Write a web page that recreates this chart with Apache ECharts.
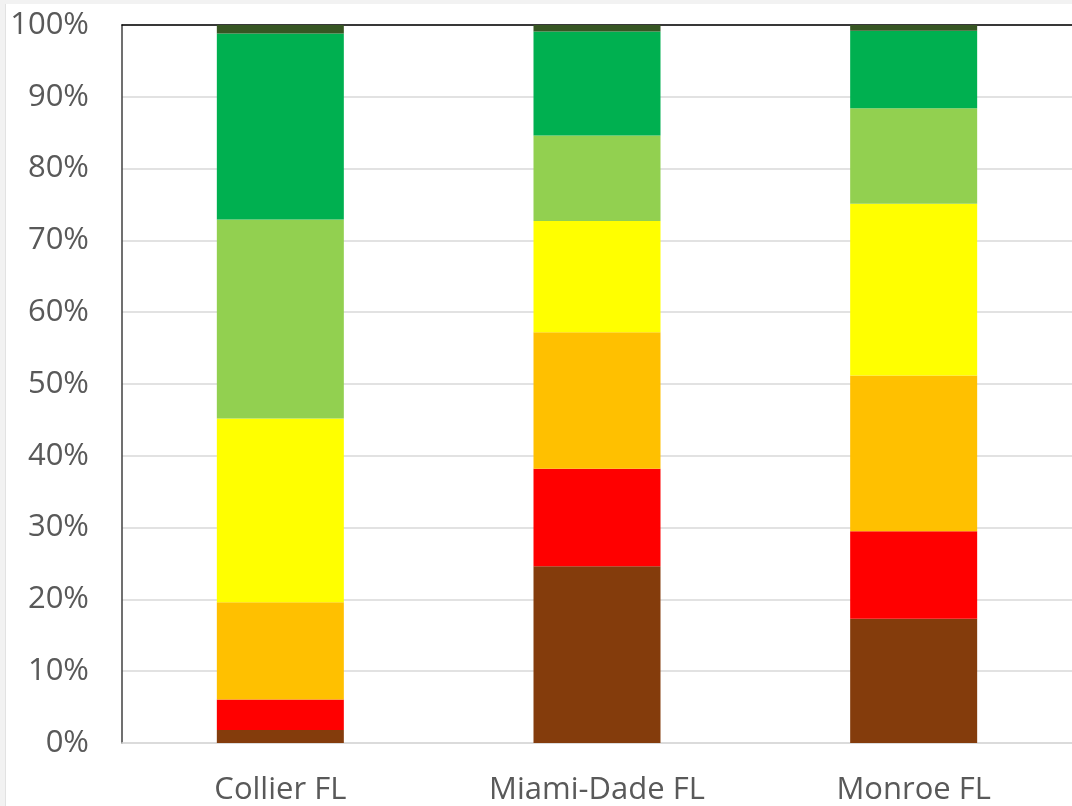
<!DOCTYPE html>
<html>
<head>
<meta charset="utf-8">
<script src="https://cdn.jsdelivr.net/npm/echarts@6/dist/echarts.min.js"></script>
<style>
  html, body { margin: 0; padding: 0; background: #f2f2f2; width: 1072px; height: 806px; overflow: hidden; }
  #leftline { position: absolute; left: 5px; top: 4px; width: 1px; height: 802px; background: #e2e2e2; }
  #chart { position: absolute; left: 6px; top: 4px; width: 1066px; height: 802px; background: #ffffff; }
</style>
</head>
<body>
<div id="leftline"></div>
<div id="chart"></div>
<script>
// Categories (counties)
const categories = ['Collier FL', 'Miami-Dade FL', 'Monroe FL'];
// Y axis ticks (percent)
const yTicks = [0, 10, 20, 30, 40, 50, 60, 70, 80, 90, 100];
// Stacked segments, bottom to top (percent of total)
const seg1 = [1.8, 24.6, 17.3];   // brown
const seg2 = [4.25, 13.6, 12.2];  // red
const seg3 = [13.55, 19.0, 21.7]; // orange
const seg4 = [25.6, 15.5, 23.9];  // yellow
const seg5 = [27.7, 11.9, 13.3];  // light green
const seg6 = [25.9, 14.5, 10.8];  // green
const seg7 = [1.2, 0.9, 0.8];     // dark green

const segments = [seg1, seg2, seg3, seg4, seg5, seg6, seg7];
const segNames = ['Category 1', 'Category 2', 'Category 3', 'Category 4', 'Category 5', 'Category 6', 'Category 7'];
const colors = ['#843C0C', '#FF0000', '#FFC000', '#FFFF00', '#92D050', '#00B050', '#375623'];

const chart = echarts.init(document.getElementById('chart'), null, { renderer: 'canvas' });
const option = {
  animation: false,
  backgroundColor: '#ffffff',
  grid: { left: 116, top: 21, width: 956, height: 722, containLabel: false },
  xAxis: [{
    type: 'category',
    data: categories,
    position: 'bottom',
    axisLine: { show: true, lineStyle: { color: '#d9d9d9', width: 1.5 } },
    axisTick: { show: false },
    axisLabel: { color: '#595959', fontSize: 31, fontFamily: 'Open Sans', margin: 32 }
  }, {
    type: 'category',
    data: categories,
    position: 'top',
    axisLine: { show: true, lineStyle: { color: '#000000', width: 1.5 } },
    axisTick: { show: false },
    axisLabel: { show: false }
  }],
  yAxis: {
    type: 'value',
    min: yTicks[0],
    max: yTicks[yTicks.length - 1],
    interval: 10,
    axisLine: { show: true, lineStyle: { color: '#404040', width: 1.5 } },
    axisTick: { show: false },
    axisLabel: { color: '#595959', fontSize: 31, fontFamily: 'Open Sans', margin: 33, formatter: '{value}%' },
    splitLine: { show: true, lineStyle: { color: '#d9d9d9', width: 1.5 } }
  },
  series: segments.map((d, i) => ({
    name: segNames[i],
    type: 'bar',
    stack: 'total',
    xAxisIndex: 0,
    barWidth: 127,
    data: d,
    itemStyle: { color: colors[i] }
  }))
};
chart.setOption(option);
</script>
</body>
</html>
